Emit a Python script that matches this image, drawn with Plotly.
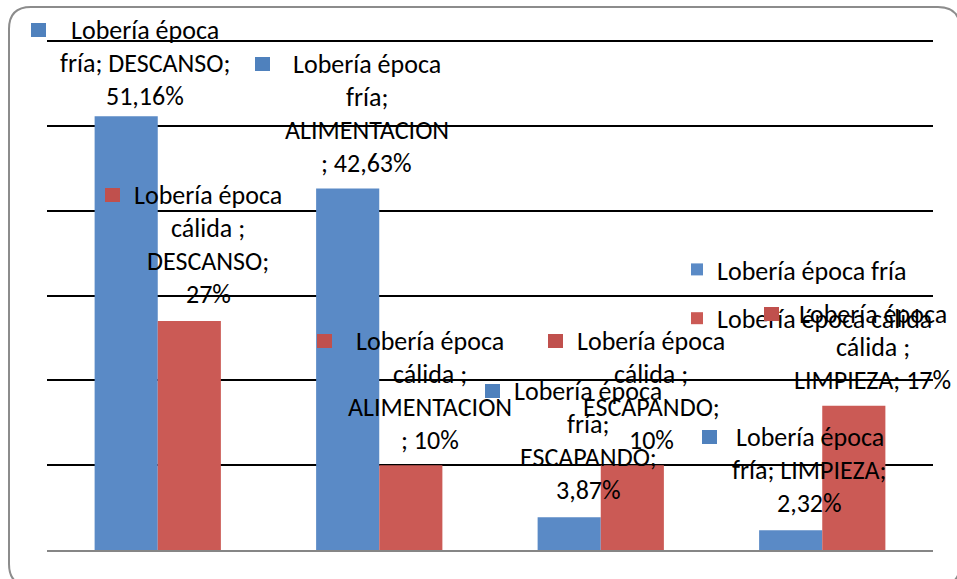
import plotly.graph_objects as go

# ---- data ----
categories = ["DESCANSO", "ALIMENTACION", "ESCAPANDO", "LIMPIEZA"]
series_names = ["Lobería época fría", "Lobería época cálida "]
fria = [51.16, 42.63, 3.87, 2.32]
calida = [27, 10, 10, 17]
y_ticks = [0, 10, 20, 30, 40, 50, 60]

# data label texts, wrapped as in the original
label_lines_fria = [
    ["Lobería época", "fría; DESCANSO;", "51,16%"],
    ["Lobería época", "fría;", "ALIMENTACION", "; 42,63%"],
    ["Lobería época", "fría;", "ESCAPANDO;", "3,87%"],
    ["Lobería época", "fría; LIMPIEZA;", "2,32%"],
]
label_lines_calida = [
    ["Lobería época", "cálida ;", "DESCANSO;", "27%"],
    ["Lobería época", "cálida ;", "ALIMENTACION", "; 10%"],
    ["Lobería época", "cálida ;", "ESCAPANDO;", "10%"],
    ["Lobería época", "cálida ;", "LIMPIEZA; 17%"],
]

# ---- style ----
BLUE = "#5A8AC6"
RED = "#CB5A55"
KEY_BLUE = "#4F81BD"
KEY_RED = "#C0504D"
FONT = "Carlito, Calibri, Lato, sans-serif"
FS = 26
W, H = 957, 579
ML, MR, MT, MB = 47, 24, 40, 29
Y_TOP = 60.15
BARGAP = 0.43
half = (1 - BARGAP) / 4          # bar centre offset from category centre
LINE = 33                         # label line spacing (px)
TXT_DX = 19                       # label centre shift right of bar centre
last_off_fria = [20, 26, 27, 27]
last_off_cal = [27, 25, 25, 26]
key_dx_fria = [-107, -104, -96, -100]
key_dx_cal = [-96, -105, -96, -101]

fig = go.Figure()
fig.add_trace(go.Bar(x=categories, y=fria, name=series_names[0], marker_color=BLUE,
                     marker_line_width=0, legendgroup="a"))
fig.add_trace(go.Bar(x=categories, y=calida, name=series_names[1], marker_color=RED,
                     marker_line_width=0, legendgroup="b"))

annotations = []


def add_label(xc, yv, lines, last_off, key_dx, color):
    n = len(lines)
    for k, t in enumerate(lines):
        annotations.append(dict(
            x=xc, y=yv, xref="x", yref="y", text=t, showarrow=False,
            xanchor="center", yanchor="middle", xshift=TXT_DX,
            yshift=last_off + (n - 1 - k) * LINE,
            font=dict(family=FONT, size=FS, color="black")))
    top = last_off + (n - 1) * LINE
    # legend key square of the data label
    annotations.append(dict(
        x=xc, y=yv, xref="x", yref="y", text=" ", showarrow=False,
        xanchor="center", yanchor="middle", xshift=TXT_DX + key_dx, yshift=top,
        width=15, height=14, bgcolor=color, borderpad=0, borderwidth=0,
        font=dict(size=4)))


for i in range(len(categories)):
    add_label(i - half, fria[i], label_lines_fria[i], last_off_fria[i], key_dx_fria[i], KEY_BLUE)
    add_label(i + half, calida[i], label_lines_calida[i], last_off_cal[i], key_dx_cal[i], KEY_RED)

# rounded chart border (paper coords)
pw, ph = W - ML - MR, H - MT - MB


def px(x):
    return (x - ML) / pw


def py(y):
    return (H - MB - y) / ph


bl, bt, br, bb, r = 9, 7, 960, 586, 22
path = (f"M {px(bl)},{py(bt + r)} Q {px(bl)},{py(bt)} {px(bl + r)},{py(bt)} "
        f"L {px(br - r)},{py(bt)} Q {px(br)},{py(bt)} {px(br)},{py(bt + r)} "
        f"L {px(br)},{py(bb - r)} Q {px(br)},{py(bb)} {px(br - r)},{py(bb)} "
        f"L {px(bl + r)},{py(bb)} Q {px(bl)},{py(bb)} {px(bl)},{py(bb - r)} Z")
shapes = [dict(type="path", xref="paper", yref="paper", path=path,
               line=dict(color="#8C8C8C", width=2), layer="below")]

fig.update_layout(
    width=W, height=H, margin=dict(l=ML, r=MR, t=MT, b=MB),
    paper_bgcolor="white", plot_bgcolor="white",
    barmode="group", bargap=BARGAP, bargroupgap=0,
    font=dict(family=FONT, size=FS, color="black"),
    showlegend=True,
    legend=dict(x=px(677), y=py(246), xanchor="left", yanchor="top",
                traceorder="grouped", tracegroupgap=12,
                bgcolor="rgba(0,0,0,0)", font=dict(family=FONT, size=FS)),
    xaxis=dict(range=[-0.5, len(categories) - 0.5], showticklabels=False, ticks="",
               showgrid=False, showline=True, linecolor="#868686", linewidth=2,
               zeroline=False),
    yaxis=dict(range=[0, Y_TOP], tickvals=y_ticks, showticklabels=False, ticks="",
               showgrid=True, gridcolor="black", gridwidth=2,
               zeroline=False, showline=False),
    annotations=annotations, shapes=shapes,
)

fig.write_html("out.html", config={"displayModeBar": False},
               post_script="document.body.style.margin='0';")
